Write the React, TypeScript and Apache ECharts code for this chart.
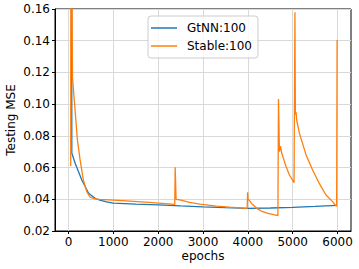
import React, { useEffect, useRef } from "react";
import * as echarts from "echarts";

const xTicks = [0, 1000, 2000, 3000, 4000, 5000, 6000];
const yTicksMin = 0.02;
const yTicksMax = 0.16;
const yTickStep = 0.02;

const gtnnName = "GtNN:100";
const stableName = "Stable:100";

const gtnnData: [number, number][] = [
  [68, 0.3], [75, 0.069], [150, 0.0627], [300, 0.052], [450, 0.0438],
  [600, 0.0405], [700, 0.0394], [850, 0.0383], [1000, 0.0376], [1500, 0.0369],
  [2000, 0.0365], [2500, 0.0358], [3000, 0.0352], [3500, 0.0347], [4000, 0.0343],
  [4500, 0.0345], [5000, 0.0349], [5500, 0.0355], [5990, 0.0362],
];

const stableData: [number, number][] = [
  [50, 0.061], [55, 0.3], [90, 0.117], [200, 0.0774], [260, 0.0648],
  [333, 0.052], [408, 0.0448], [482, 0.0413], [593, 0.0402], [700, 0.04],
  [1200, 0.0392], [1800, 0.0381], [2370, 0.0368], [2380, 0.0602], [2400, 0.04],
  [2482, 0.0396], [2704, 0.0381], [2927, 0.0369], [3300, 0.0357], [3593, 0.035],
  [3985, 0.0343], [3995, 0.0444], [4005, 0.0403], [4100, 0.0368], [4200, 0.0343],
  [4300, 0.0326], [4450, 0.0311], [4670, 0.0297], [4683, 0.1033], [4704, 0.07],
  [4727, 0.0735], [4756, 0.069], [4853, 0.0606], [4927, 0.0553], [5030, 0.0505],
  [5050, 0.158], [5060, 0.0935], [5075, 0.095], [5089, 0.09], [5149, 0.0817],
  [5298, 0.068], [5444, 0.0585], [5593, 0.05], [5742, 0.0427], [5889, 0.0385],
  [5965, 0.0358], [5980, 0.0356], [5990, 0.1405],
];

const FONT = "DejaVu Sans";

export default function App() {
  const ref = useRef<HTMLDivElement>(null);
  useEffect(() => {
    if (!ref.current) return;
    const chart = echarts.init(ref.current, undefined, { renderer: "svg" });
    chart.setOption({
      animation: false,
      backgroundColor: "#fff",
      textStyle: { fontFamily: FONT },
      grid: {
        left: 55, top: 9, width: 296, height: 222,
        outerBoundsMode: "none", containLabel: false,
        show: true, borderColor: "#000", borderWidth: 1, backgroundColor: "transparent",
      },
      legend: {
        left: 148, top: 16, orient: "vertical",
        icon: "rect",
        itemWidth: 26, itemHeight: 1.5, itemGap: 4,
        padding: [5, 6, 5, 3],
        backgroundColor: "rgba(255,255,255,0.8)",
        borderColor: "#cccccc", borderWidth: 1, borderRadius: 3,
        textStyle: { fontFamily: FONT, fontSize: 12, lineHeight: 14, color: "#000", padding: [0, 0, 0, 5] },
        data: [gtnnName, stableName],
      },
      xAxis: {
        type: "value", min: -300, max: 6300,
        name: "epochs", nameLocation: "middle", nameGap: 19, nameMoveOverlap: false,
        nameTextStyle: { fontFamily: FONT, fontSize: 12, color: "#000" },
        axisLine: { show: true, onZero: false, lineStyle: { color: "#000", width: 1 } },
        axisTick: { show: true, length: 3, customValues: xTicks, lineStyle: { color: "#000" } },
        axisLabel: {
          customValues: xTicks, fontFamily: FONT, fontSize: 12, color: "#000", margin: 5,
          formatter: (v: number) => String(v),
        },
        splitLine: { show: true, lineStyle: { color: "#d9d9d9", width: 1 } },
      },
      yAxis: {
        type: "value", min: yTicksMin, max: yTicksMax, interval: yTickStep,
        name: "Testing MSE", nameLocation: "middle", nameGap: 38, nameMoveOverlap: false,
        nameTextStyle: { fontFamily: FONT, fontSize: 12, color: "#000" },
        axisLine: { show: true, onZero: false, lineStyle: { color: "#000", width: 1 } },
        axisTick: { show: true, length: 3, lineStyle: { color: "#000" } },
        axisLabel: {
          fontFamily: FONT, fontSize: 12, color: "#000", margin: 5,
          formatter: (v: number) => v.toFixed(2),
        },
        splitLine: { show: true, lineStyle: { color: "#d9d9d9", width: 1 } },
      },
      series: [
        {
          name: gtnnName, type: "line", data: gtnnData, symbol: "none", showSymbol: false,
          lineStyle: { color: "#1f77b4", width: 1.3 }, itemStyle: { color: "#1f77b4" },
          clip: true, z: 3,
        },
        {
          name: stableName, type: "line", data: stableData, symbol: "none", showSymbol: false,
          lineStyle: { color: "#ff7f0e", width: 1.3 }, itemStyle: { color: "#ff7f0e" },
          clip: true, z: 4,
        },
      ],
    });
    return () => chart.dispose();
  }, []);
  return <div ref={ref} style={{ width: 359, height: 269, position: "fixed", left: 0, top: 0 }} />;
}
